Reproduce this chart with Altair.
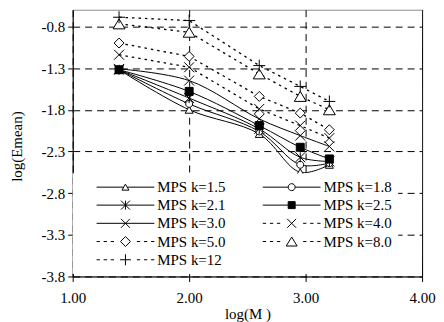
import altair as alt
import pandas as pd

# ---------------- data ----------------
log_m = [1.398, 2.0, 2.602, 2.954, 3.204]
series = ["MPS k=1.5", "MPS k=1.8", "MPS k=2.1", "MPS k=2.5", "MPS k=3.0",
          "MPS k=4.0", "MPS k=5.0", "MPS k=8.0", "MPS k=12"]
k15 = [-1.32, -1.80, -2.09, -2.55, -2.46]
k18 = [-1.32, -1.73, -2.06, -2.46, -2.44]
k21 = [-1.32, -1.66, -2.03, -2.37, -2.42]
k25 = [-1.32, -1.58, -1.99, -2.25, -2.39]
k30 = [-1.31, -1.45, -1.91, -2.11, -2.24]
k40 = [-1.14, -1.29, -1.79, -1.99, -2.14]
k50 = [-1.00, -1.16, -1.64, -1.84, -2.04]
k80 = [-0.77, -0.87, -1.37, -1.64, -1.80]
k12 = [-0.69, -0.73, -1.27, -1.52, -1.70]
values = [k15, k18, k21, k25, k30, k40, k50, k80, k12]
line_style = ["solid"] * 5 + ["dot"] * 4
x_ticks = [1.0, 2.0, 3.0, 4.0]
y_ticks = [-3.8, -3.3, -2.8, -2.3, -1.8, -1.3, -0.8]

rows = []
for name, vals, sty in zip(series, values, line_style):
    for xv, yv in zip(log_m, vals):
        rows.append({"series": name, "x": xv, "y": yv, "style": sty})
df = pd.DataFrame(rows)

# ---------------- marker paths (pixel units, drawn with size=4) ----------------
def f(v):
    return f"{v:.3f}"

def tri(w, h, dx=0.0):
    return (f"M{f(dx)},{f(-h/2)}L{f(dx+w/2)},{f(h/2)}"
            f"L{f(dx-w/2)},{f(h/2)}Z")

def circ(r, dx=0.0):
    k = 0.5523 * r
    return (f"M{f(dx+r)},0C{f(dx+r)},{f(k)} {f(dx+k)},{f(r)} {f(dx)},{f(r)}"
            f"C{f(dx-k)},{f(r)} {f(dx-r)},{f(k)} {f(dx-r)},0"
            f"C{f(dx-r)},{f(-k)} {f(dx-k)},{f(-r)} {f(dx)},{f(-r)}"
            f"C{f(dx+k)},{f(-r)} {f(dx+r)},{f(-k)} {f(dx+r)},0Z")

def sq(a, dx=0.0):
    return f"M{f(dx-a)},{f(-a)}H{f(dx+a)}V{f(a)}H{f(dx-a)}Z"

def dia(a, dx=0.0):
    return f"M{f(dx)},{f(-a)}L{f(dx+a)},0L{f(dx)},{f(a)}L{f(dx-a)},0Z"

def xm(a, dx=0.0):
    return (f"M{f(dx-a)},{f(-a)}L{f(dx+a)},{f(a)}"
            f"M{f(dx-a)},{f(a)}L{f(dx+a)},{f(-a)}")

def plus(a, dx=0.0):
    return f"M{f(dx-a)},0H{f(dx+a)}M{f(dx)},{f(-a)}V{f(a)}"

def ast(a, dx=0.0):
    return xm(a, dx) + f"M{f(dx)},{f(-a)}V{f(a)}"

plot_shapes = [tri(8, 7), circ(3.5), ast(5), sq(4), xm(5),
               xm(5), dia(5), tri(12, 10), plus(6)]
fills = ["white", "white", "white", "black", "white",
         "white", "white", "white", "white"]

# legend symbols: 58 px line with marker, centred C px from the nominal symbol
C = -4.5

def seg(a, b):
    return f"M{f(C+a)},0H{f(C+b)}"

def solid(gap):
    if gap == 0:
        return seg(-29, 29)
    return seg(-29, -gap) + seg(gap, 29)

def dotted():
    d = [(-29, -25.7), (-21.9, -18.6), (-14.8, -11.5),
         (11.5, 14.8), (18.6, 21.9), (25.7, 29)]
    return "".join(seg(a, b) for a, b in d)

legend_shapes = [
    solid(2) + tri(7, 6, C),
    solid(3.5) + circ(3.5, C),
    solid(0) + ast(4.5, C),
    solid(3.5) + sq(3.5, C),
    solid(0) + xm(4.5, C),
    dotted() + xm(4.5, C),
    dotted() + dia(5, C),
    dotted() + tri(11, 9, C),
    dotted() + plus(5.5, C),
]

FONT = "Liberation Serif"

base = alt.Chart(df)

x_enc = alt.X(
    "x:Q",
    scale=alt.Scale(domain=[1, 4], nice=False, zero=False),
    axis=alt.Axis(
        values=x_ticks, format=".2f", title="log(M )",
        grid=True, gridColor="black", gridWidth=1, gridOpacity=1,
        gridDash={"condition": {"test": "datum.value == 4", "value": [1, 0]},
                  "value": [7, 5]},
        domainColor="black", tickColor="black", tickSize=5,
        labelFont=FONT, labelFontSize=15, labelColor="black", labelPadding=9,
        labelFlush=False,
        titleFont=FONT, titleFontSize=15, titleFontWeight="normal",
        titleColor="black", titleBaseline="middle", titleY=37,
    ),
)
y_enc = alt.Y(
    "y:Q",
    scale=alt.Scale(domain=[-3.8, -0.6], nice=False, zero=False),
    axis=alt.Axis(
        values=y_ticks,
        labelExpr="replace(format(datum.value, '.1f'), '\u2212', '-')",
        title="log(Emean)",
        grid=True, gridColor="black", gridWidth=1, gridOpacity=1,
        gridDash=[7, 5],
        domainColor="black", tickColor="black", tickSize=5,
        labelFont=FONT, labelFontSize=15, labelColor="black", labelPadding=3,
        titleFont=FONT, titleFontSize=15, titleFontWeight="normal",
        titleColor="black", titleAngle=270, titleAlign="center",
        titleBaseline="middle", titleX=-56, titleY=137,
    ),
)

solid_lines = base.transform_filter("datum.style == 'solid'").mark_line(
    interpolate="catmull-rom", color="black", strokeWidth=1
).encode(x=x_enc, y=y_enc, detail="series:N")

dotted_lines = base.transform_filter("datum.style == 'dot'").mark_line(
    interpolate="linear", color="black", strokeWidth=1.3, strokeDash=[2.5, 4]
).encode(x=alt.X("x:Q"), y=alt.Y("y:Q"), detail="series:N")

points = base.mark_point(filled=True, stroke="black", strokeWidth=1,
                         opacity=1, size=4).encode(
    x=alt.X("x:Q"),
    y=alt.Y("y:Q"),
    shape=alt.Shape("series:N", scale=alt.Scale(domain=series, range=plot_shapes),
                    legend=None),
    fill=alt.Fill("series:N", scale=alt.Scale(domain=series, range=fills),
                  legend=None),
)

leg = alt.Legend(
    title=None, orient="none", legendX=0, legendY=164.5, columns=2,
    direction="horizontal",
    fillColor="white", padding=6, symbolSize=4, symbolOffset=44,
    labelOffset=20, columnPadding=19, rowPadding=2.3,
    labelFont=FONT, labelFontSize=15, labelColor="black",
    symbolStrokeWidth=1, symbolStrokeColor="black", symbolOpacity=1,
)

legend_layer = base.transform_filter("false").mark_point(
    filled=True, stroke="black", strokeWidth=1, opacity=1, size=4
).encode(
    shape=alt.Shape("series:N", scale=alt.Scale(domain=series, range=legend_shapes),
                    legend=leg),
    fill=alt.Fill("series:N", scale=alt.Scale(domain=series, range=fills),
                  legend=leg),
    stroke=alt.Stroke("series:N", scale=alt.Scale(domain=series, range=["black"] * 9),
                      legend=leg),
)

chart = alt.layer(solid_lines, dotted_lines, points, legend_layer).resolve_scale(
    shape="independent", fill="independent", stroke="independent"
).properties(
    width=351, height=268,
    padding={"left": 65, "top": 1, "right": 14, "bottom": 45},
    autosize=alt.AutoSizeParams(type="none"),
    background="white",
).configure_view(stroke="#8c8c8c", strokeWidth=1)

chart.save("out.html", embed_options={"renderer": "svg", "actions": False})
